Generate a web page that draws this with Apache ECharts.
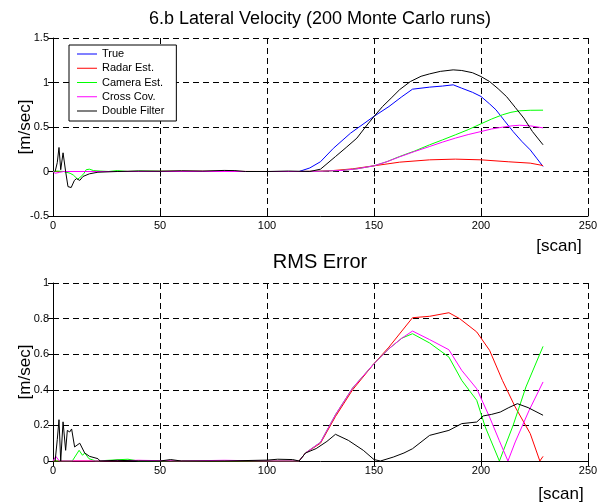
<!DOCTYPE html>
<html>
<head>
<meta charset="utf-8">
<script src="https://cdn.jsdelivr.net/npm/echarts@6/dist/echarts.min.js"></script>
<style>
  html, body { margin: 0; padding: 0; background: #fff; }
  #chart { width: 613px; height: 504px; }
</style>
</head>
<body>
<div id="chart"></div>
<script>
// Lateral velocity estimates, averaged over 200 Monte Carlo runs
const seriesNames = ['True', 'Radar Est.', 'Camera Est.', 'Cross Cov.', 'Double Filter'];
const seriesColors = ['#0000ff', '#ff0000', '#00ff00', '#ff00ff', '#000000'];

const xTicks = [0, 50, 100, 150, 200, 250];
const velTicks = [-0.5, 0, 0.5, 1, 1.5];
const rmsTicks = [0, 0.2, 0.4, 0.6, 0.8, 1];

// --- mean velocity [m/sec] vs scan ---
const trueScan = [0, 20, 60, 100, 115, 120, 125, 131, 139, 150, 157, 163, 168, 176, 182, 187, 191, 196, 200, 204, 207, 211, 215, 219, 223, 226, 229];
const trueVel  = [0, 0, 0, 0, 0, 0.04, 0.11, 0.26, 0.43, 0.62, 0.73, 0.84, 0.925, 0.948, 0.96, 0.974, 0.936, 0.89, 0.843, 0.76, 0.693, 0.57, 0.449, 0.34, 0.243, 0.15, 0.056];

const radarScan = [0, 30, 60, 100, 115, 125, 131, 140, 150, 162, 176, 188, 200, 213, 223, 229];
const radarVel  = [0, 0, 0.003, 0, 0, 0.004, 0.011, 0.03, 0.064, 0.105, 0.131, 0.139, 0.131, 0.109, 0.094, 0.067];

const camScan = [0, 2, 5, 8, 9.5, 11.5, 13, 14.5, 15.5, 17, 19, 22, 26, 30, 35, 40, 60, 100, 115, 125, 135, 142, 150, 156, 162, 169, 176, 182, 188, 194, 200, 205, 210, 214, 218, 223, 229];
const camVel  = [0, 0.005, 0, -0.02, -0.04, -0.086, -0.06, -0.02, 0.02, 0.026, 0.01, 0.005, 0, 0.01, 0, 0.005, 0, 0, 0, 0.003, 0.012, 0.03, 0.064, 0.11, 0.169, 0.23, 0.3, 0.355, 0.412, 0.47, 0.536, 0.59, 0.637, 0.665, 0.682, 0.688, 0.689];

const crossScan = [0, 1, 3, 5, 20, 60, 100, 115, 125, 135, 142, 150, 156, 162, 169, 176, 182, 188, 194, 200, 205, 210, 214, 218, 223, 229];
const crossVel  = [0, -0.02, -0.01, 0, 0, 0, 0, 0, 0.003, 0.012, 0.03, 0.064, 0.11, 0.165, 0.225, 0.281, 0.33, 0.375, 0.415, 0.449, 0.478, 0.498, 0.512, 0.52, 0.513, 0.49];

const dualScan = [1, 2, 2.8, 3.6, 4.7, 5.9, 7, 8.5, 10, 11, 12.5, 14, 17, 21, 30, 40, 50, 60, 70, 80, 85, 90, 100, 110, 120, 125, 132, 137, 142, 146, 150, 154, 158, 162, 167, 172, 176, 181, 187, 191, 196, 200, 204, 208, 212, 216, 220, 224, 229];
const dualVel  = [0, 0.1, 0.27, 0.02, 0.21, 0, -0.17, -0.18, -0.1, -0.08, -0.1, -0.056, -0.026, -0.008, 0, 0.005, 0.003, 0.008, 0.005, 0.012, 0.01, 0, 0, 0.005, 0, 0.026, 0.168, 0.27, 0.375, 0.5, 0.618, 0.73, 0.824, 0.92, 1.011, 1.07, 1.097, 1.125, 1.142, 1.135, 1.11, 1.067, 1.011, 0.93, 0.84, 0.72, 0.6, 0.45, 0.3];

// --- RMS error [m/sec] vs scan ---
const trueRmsScan = [0, 229];
const trueRms     = [0, 0];

const radarRmsScan = [0, 20, 40, 60, 80, 100, 115, 118, 125, 132, 140, 150, 157, 163, 168, 176, 185, 190, 198, 204, 210, 216, 223, 227.5, 229];
const radarRms     = [0, 0, 0.003, 0, 0, 0, 0, 0.045, 0.1, 0.25, 0.4, 0.547, 0.64, 0.73, 0.805, 0.813, 0.833, 0.8, 0.725, 0.622, 0.453, 0.303, 0.154, 0, 0.026];

const camRmsScan = [0, 9, 12.2, 13.8, 14.8, 16.8, 20, 35, 40, 60, 100, 115, 118, 125, 132, 140, 150, 157, 163, 168, 176, 185, 191, 198, 202, 208.6, 215, 221, 229];
const camRms     = [0, 0, 0.06, 0.032, 0.045, 0.013, 0, 0.01, 0, 0, 0, 0, 0.045, 0.105, 0.26, 0.41, 0.547, 0.631, 0.69, 0.715, 0.663, 0.584, 0.453, 0.341, 0.191, 0, 0.2, 0.416, 0.644];

const crossRmsScan = [0, 1.3, 3, 20, 40, 60, 80, 100, 115, 118, 125, 132, 140, 150, 157, 163, 168, 176, 185, 191, 198, 204, 208.5, 212.6, 216, 222.5, 229];
const crossRms     = [0, 0.026, 0, 0, 0.004, 0, 0.004, 0, 0, 0.045, 0.105, 0.26, 0.41, 0.547, 0.631, 0.69, 0.73, 0.682, 0.625, 0.509, 0.406, 0.247, 0.116, 0, 0.107, 0.285, 0.444];

const dualRmsScan = [1, 2, 2.8, 3.6, 4.7, 5.9, 6.7, 7.8, 8.7, 10.1, 12.5, 14.8, 17.1, 21, 22, 30, 40, 50, 55, 60, 80, 100, 105, 112, 115, 118, 123, 128, 132, 138, 145, 150, 153, 159, 164, 168, 176, 185, 191, 198, 201, 205, 209, 213, 217, 222, 229];
const dualRms     = [0, 0.12, 0.232, 0, 0.22, 0.06, 0.172, 0.163, 0.18, 0.079, 0.1, 0.045, 0.026, 0.013, 0, 0.004, 0, 0, 0.008, 0, 0, 0.005, 0.01, 0.008, 0, 0.045, 0.07, 0.11, 0.15, 0.116, 0.06, 0.008, 0, 0.022, 0.045, 0.069, 0.144, 0.172, 0.21, 0.219, 0.253, 0.262, 0.275, 0.3, 0.322, 0.3, 0.257];

const FONT = '"Liberation Sans", Arial, sans-serif';

function pairs(xs, ys) { return xs.map((x, i) => [x, ys[i]]); }

const velData = [pairs(trueScan, trueVel), pairs(radarScan, radarVel), pairs(camScan, camVel), pairs(crossScan, crossVel), pairs(dualScan, dualVel)];
const rmsData = [pairs(trueRmsScan, trueRms), pairs(radarRmsScan, radarRms), pairs(camRmsScan, camRms), pairs(crossRmsScan, crossRms), pairs(dualRmsScan, dualRms)];

const gridLine = { show: true, lineStyle: { color: '#000', width: 1, type: [6, 4] } };
const tickStyle = { inside: true, length: 5, lineStyle: { color: '#000', width: 1 } };
const labelStyle = { color: '#000', fontSize: 11, fontFamily: FONT, margin: 4 };

function xMain(grid) {
  return {
    gridIndex: grid, type: 'value', min: xTicks[0], max: xTicks[xTicks.length - 1], interval: xTicks[1] - xTicks[0],
    axisLine: { onZero: false, lineStyle: { color: '#000', width: 1 } },
    axisTick: tickStyle, axisLabel: labelStyle, splitLine: gridLine
  };
}
function xMirror(grid) {
  return {
    gridIndex: grid, type: 'value', position: 'top', min: xTicks[0], max: xTicks[xTicks.length - 1], interval: xTicks[1] - xTicks[0],
    axisLine: { show: false }, axisTick: tickStyle, axisLabel: { show: false }, splitLine: { show: false }
  };
}
function yMain(grid, ticks) {
  return {
    gridIndex: grid, type: 'value', min: ticks[0], max: ticks[ticks.length - 1], interval: +(ticks[1] - ticks[0]).toFixed(3),
    axisLine: { onZero: false, show: true, lineStyle: { color: '#000', width: 1 } },
    axisTick: tickStyle, axisLabel: labelStyle, splitLine: gridLine
  };
}
function yMirror(grid, ticks) {
  return {
    gridIndex: grid, type: 'value', position: 'right', min: ticks[0], max: ticks[ticks.length - 1], interval: +(ticks[1] - ticks[0]).toFixed(3),
    axisLine: { show: false }, axisTick: tickStyle, axisLabel: { show: false }, splitLine: { show: false }
  };
}

const series = [];
seriesNames.forEach((name, i) => {
  series.push({ name, type: 'line', xAxisIndex: 0, yAxisIndex: 0, data: velData[i], symbol: 'none',
    lineStyle: { color: seriesColors[i], width: 1 }, itemStyle: { color: seriesColors[i] }, z: 3 + i });
});
seriesNames.forEach((name, i) => {
  if (i === 0) return; // true value has no estimation error
  series.push({ name, type: 'line', xAxisIndex: 2, yAxisIndex: 2, data: rmsData[i], symbol: 'none',
    lineStyle: { color: seriesColors[i], width: 1 }, itemStyle: { color: seriesColors[i] }, z: 3 + i });
});

const textEl = (text, x, y, size, rot) => ({
  type: 'text', x, y, rotation: rot || 0, z: 100,
  style: { text, fill: '#000', font: size + 'px ' + FONT, align: 'center', verticalAlign: 'middle' }
});

const chart = echarts.init(document.getElementById('chart'), null, { renderer: 'canvas' });
chart.setOption({
  animation: false,
  backgroundColor: '#fff',
  grid: [
    { left: 53, right: 25, top: 38, height: 178 },
    { left: 53, right: 25, top: 283, height: 178 }
  ],
  xAxis: [xMain(0), xMirror(0), xMain(1), xMirror(1)],
  yAxis: [yMain(0, velTicks), yMirror(0, velTicks), yMain(1, rmsTicks), yMirror(1, rmsTicks)],
  legend: {
    data: seriesNames, orient: 'vertical', left: 69, top: 45,
    icon: 'rect', itemWidth: 20, itemHeight: 1, itemGap: 0.25,
    itemStyle: { borderWidth: 0 },
    padding: [2, 12, 3, 8],
    borderColor: '#000', borderWidth: 1, backgroundColor: '#fff',
    textStyle: { color: '#000', fontSize: 11, fontFamily: FONT, lineHeight: 14 },
    selectedMode: false, z: 50
  },
  graphic: [
    textEl('6.b Lateral Velocity (200 Monte Carlo runs)', 320, 19, 18),
    textEl('RMS Error', 320, 262, 20),
    textEl('[scan]', 559, 246, 17),
    textEl('[scan]', 561, 494, 17),
    textEl('[m/sec]', 25, 127, 17, Math.PI / 2),
    textEl('[m/sec]', 25, 372, 17, Math.PI / 2)
  ],
  series
});
</script>
</body>
</html>
